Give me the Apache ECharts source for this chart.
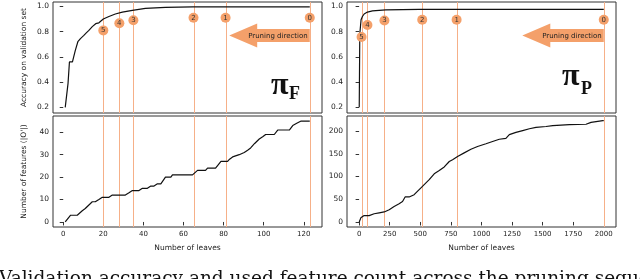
<!DOCTYPE html>
<html><head><meta charset="utf-8">
<script src="https://cdn.jsdelivr.net/npm/echarts@6/dist/echarts.min.js"></script>
<style>html,body{margin:0;padding:0;background:#fff;overflow:hidden}#c{width:640px;height:279px}</style>
</head><body><div id="c"></div>
<script>
// ---- data ----
const accLeftX = [1, 2.4, 3.1, 4.6, 6, 7.3, 8.6, 10.3, 11.5, 12.8, 14.5, 16.2, 17.8, 20, 22.8, 26, 29.5, 34.5, 41, 51, 64.5, 123];
const accLeftY = [0.2, 0.39, 0.56, 0.56, 0.65, 0.72, 0.745, 0.77, 0.79, 0.81, 0.84, 0.863, 0.87, 0.9, 0.92, 0.94, 0.955, 0.968, 0.984, 0.992, 0.997, 0.997];
const accRightX = [1, 5.5, 16, 27, 41, 68, 109, 218, 491, 2000];
const accRightY = [0.2, 0.78, 0.894, 0.92, 0.94, 0.955, 0.965, 0.972, 0.977, 0.977];

const featLeftX = [1, 3.7, 7, 9.5, 11, 14.5, 16, 17.8, 19.5, 22.8, 24.5, 31, 32.8, 34.5, 37.8, 39.5, 42, 43.7, 45.3, 47, 48.7, 51, 53.7, 54.5, 64.5, 67, 71, 72, 76, 78.7, 82, 83, 84.5, 87.8, 90.3, 92, 93.5, 95.5, 97.8, 99.5, 101, 105.3, 107, 112.8, 114.5, 116.5, 118.7, 123];
const featLeftY = [0, 3, 3, 5, 6, 9, 9, 10, 11, 11, 12, 12, 13, 14, 14, 15, 15, 16, 16, 17, 17, 20, 20, 21, 21, 23, 23, 24, 24, 27, 27, 28, 29, 30, 31, 32, 33, 35, 37, 38, 39, 39, 41, 41, 43, 44, 45, 45];
const featRightX = [1, 14, 41, 82, 123, 164, 205, 246, 286, 327, 355, 376, 409, 450, 491, 532, 573, 614, 655, 696, 737, 764, 805, 859, 914, 968, 1037, 1091, 1146, 1200, 1228, 1282, 1337, 1392, 1446, 1528, 1583, 1719, 1855, 1896, 1992, 2000];
const featRightY = [0, 9, 14, 14, 18, 20, 22, 27, 34, 40, 45, 55, 55, 60, 71, 82, 93, 106, 113, 121, 133, 137, 144, 152, 160, 166, 172, 177, 182, 184, 192, 197, 201, 205, 208, 210, 212, 214, 215, 219, 223, 223];

const cutLeft = [123, 81, 65, 35, 28, 20];
const cutRight = [2000, 797, 516, 207, 68, 20];
const cutLabels = ['0', '1', '2', '3', '4', '5'];
const markAccLeft = [0.91, 0.91, 0.91, 0.89, 0.866, 0.81];
const markAccRight = [0.894, 0.894, 0.894, 0.889, 0.852, 0.757];

const arrowLeft = [82.8, 123, 0.77];
const arrowRight = [1334, 2000, 0.77];

const xTicksLeft = [0, 20, 40, 60, 80, 100, 120];
const xTicksRight = [0, 250, 500, 750, 1000, 1250, 1500, 1750, 2000];
const yTicksAcc = [0.2, 0.4, 0.6, 0.8, 1.0];
const yTicksFeatLeft = [0, 10, 20, 30, 40];
const yTicksFeatRight = [0, 50, 100, 150, 200];

// ---- styling ----
const ORANGE = '#f4a06a';
const VLINE = '#f6b088';
const FRAME = '#333';
const FONT = 'DejaVu Sans';

function zip(a, b) { return a.map((v, i) => [v, b[i]]); }

function xAxisDef(grid, min, max, ticks, showLabels) {
  return {
    type: 'value', gridIndex: grid, min: min, max: max,
    splitLine: { show: false },
    axisLine: { show: false },
    axisTick: { show: showLabels, length: 3.5, lineStyle: { color: FRAME }, customValues: ticks },
    axisLabel: { show: showLabels, customValues: ticks, fontFamily: FONT, fontSize: 7, color: '#222', margin: 4, formatter: v => String(v) },
    name: showLabels ? 'Number of leaves' : '', nameLocation: 'middle', nameGap: 17,
    nameTextStyle: { fontFamily: FONT, fontSize: 7.5, color: '#222' }
  };
}
function yAxisDef(grid, min, max, ticks, fmt, name) {
  return {
    type: 'value', gridIndex: grid, min: min, max: max,
    splitLine: { show: false },
    axisLine: { show: false },
    axisTick: { show: true, length: 3.5, lineStyle: { color: FRAME }, customValues: ticks },
    axisLabel: { customValues: ticks, fontFamily: FONT, fontSize: 7.5, color: '#222', margin: 4, formatter: fmt },
    name: name || '', nameLocation: 'middle', nameGap: 25,
    nameTextStyle: { fontFamily: FONT, fontSize: 7.5, color: '#222' }
  };
}

function vlineSeries(xi, yi, cuts) {
  return {
    type: 'custom', xAxisIndex: xi, yAxisIndex: yi, z: 1, silent: true,
    data: cuts.map(c => [c]),
    encode: { x: 0 },
    renderItem: function (params, api) {
      const cs = params.coordSys;
      const x = Math.round(api.coord([api.value(0), 0])[0]) + 0.5;
      return {
        type: 'line',
        shape: { x1: x, y1: cs.y, x2: x, y2: cs.y + cs.height },
        style: { stroke: VLINE, lineWidth: 1 }
      };
    }
  };
}
function curveSeries(xi, yi, xs, ys) {
  return {
    type: 'line', xAxisIndex: xi, yAxisIndex: yi, data: zip(xs, ys), z: 3,
    showSymbol: false, symbol: 'none', lineStyle: { color: '#111', width: 1.2 }, animation: false
  };
}
function markerSeries(xi, yi, cuts, ys) {
  return {
    type: 'scatter', xAxisIndex: xi, yAxisIndex: yi, z: 5,
    data: cuts.map((c, i) => ({ value: [c, ys[i]], name: cutLabels[i] })),
    symbolSize: 10, itemStyle: { color: ORANGE, opacity: 1 },
    label: { show: true, position: 'inside', formatter: p => p.name, fontFamily: FONT, fontSize: 7, color: '#333' }
  };
}
function arrowSeries(xi, yi, arr) {
  return {
    type: 'custom', xAxisIndex: xi, yAxisIndex: yi, z: 4, clip: false,
    data: [arr],
    encode: { x: [0, 1], y: 2 },
    renderItem: function (params, api) {
      const p0 = api.coord([api.value(0), api.value(2)]);
      const p1 = api.coord([api.value(1), api.value(2)]);
      const headLen = 28, headH = 12, bodyH = 6.5;
      const y = p0[1];
      const pts = [
        [p0[0], y], [p0[0] + headLen, y - headH], [p0[0] + headLen, y - bodyH],
        [p1[0], y - bodyH], [p1[0], y + bodyH], [p0[0] + headLen, y + bodyH],
        [p0[0] + headLen, y + headH]
      ];
      return {
        type: 'group', children: [
          { type: 'polygon', shape: { points: pts }, style: { fill: ORANGE } },
          { type: 'text', style: { text: 'Pruning direction', x: p1[0] - 2, y: y + 0.5, align: 'right', verticalAlign: 'middle', fontFamily: FONT, fontSize: 7, fill: '#222' } }
        ]
      };
    }
  };
}

const chart = echarts.init(document.getElementById('c'), null, { renderer: 'canvas' });
const gridStyle = { show: true, borderColor: FRAME, borderWidth: 1, backgroundColor: 'transparent', containLabel: false };
chart.setOption({
  animation: false,
  grid: [
    Object.assign({ left: 53, top: 2, width: 269, height: 111 }, gridStyle),
    Object.assign({ left: 347, top: 2, width: 269, height: 111 }, gridStyle),
    Object.assign({ left: 53, top: 116, width: 269, height: 111 }, gridStyle),
    Object.assign({ left: 347, top: 116, width: 269, height: 111 }, gridStyle)
  ],
  xAxis: [
    xAxisDef(0, -5.1, 129.1, xTicksLeft, false),
    xAxisDef(1, -99, 2100, xTicksRight, false),
    xAxisDef(2, -5.1, 129.1, xTicksLeft, true),
    xAxisDef(3, -99, 2100, xTicksRight, true)
  ],
  yAxis: [
    yAxisDef(0, 0.155, 1.035, yTicksAcc, v => v.toFixed(1), 'Accuracy on validation set'),
    yAxisDef(1, 0.155, 1.035, yTicksAcc, v => v.toFixed(1)),
    yAxisDef(2, -2.25, 47.25, yTicksFeatLeft, v => String(v), "Number of features (|O'|)"),
    yAxisDef(3, -11.1, 233.1, yTicksFeatRight, v => String(v))
  ],
  series: [
    vlineSeries(0, 0, cutLeft), vlineSeries(1, 1, cutRight),
    vlineSeries(2, 2, cutLeft), vlineSeries(3, 3, cutRight),
    curveSeries(0, 0, accLeftX, accLeftY), curveSeries(1, 1, accRightX, accRightY),
    curveSeries(2, 2, featLeftX, featLeftY), curveSeries(3, 3, featRightX, featRightY),
    markerSeries(0, 0, cutLeft, markAccLeft), markerSeries(1, 1, cutRight, markAccRight),
    arrowSeries(0, 0, arrowLeft), arrowSeries(1, 1, arrowRight)
  ],
  graphic: [
    { type: 'text', left: 271, top: 70, style: { text: 'π', font: 'bold 32px "Liberation Serif"', fill: '#111' } },
    { type: 'text', left: 289, top: 85, style: { text: 'F', font: 'bold 18px "Liberation Serif"', fill: '#111' } },
    { type: 'text', left: 562, top: 61, style: { text: 'π', font: 'bold 32px "Liberation Serif"', fill: '#111' } },
    { type: 'text', left: 581, top: 80, style: { text: 'P', font: 'bold 18px "Liberation Serif"', fill: '#111' } },
    { type: 'text', left: -1, top: 270, style: { text: 'Validation accuracy and used feature count across the pruning sequence', font: '18.5px "DejaVu Serif"', fill: '#111' } }
  ]
});
</script></body></html>
